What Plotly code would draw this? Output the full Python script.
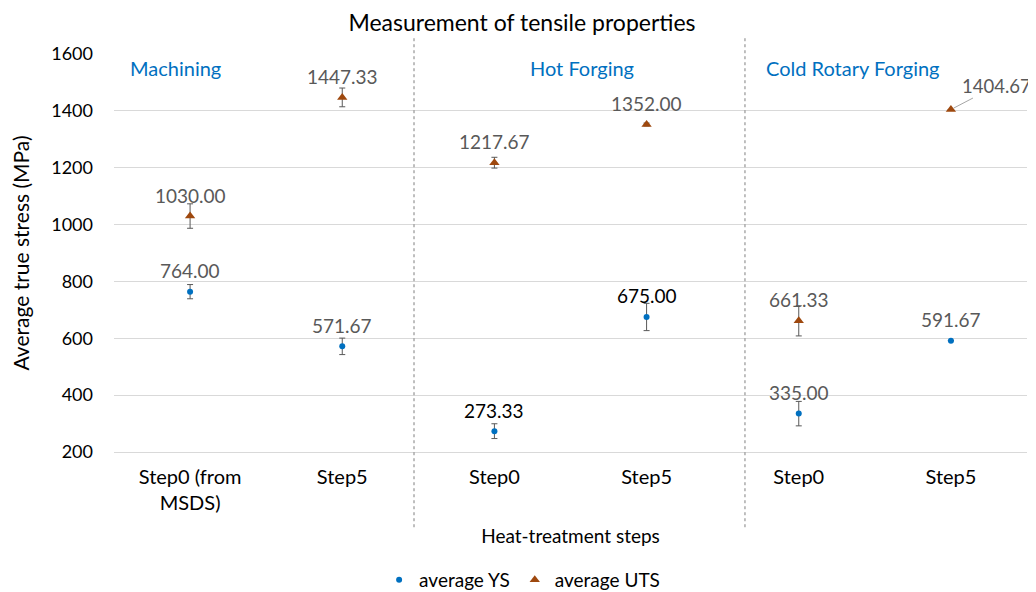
import plotly.graph_objects as go

# ---- data ----
x_pos = [0, 1, 2, 3, 4, 5]
tick_labels = ["Step0 (from<br>MSDS)", "Step5", "Step0", "Step5", "Step0", "Step5"]
groups = ["Machining", "Hot Forging", "Cold Rotary Forging"]
ys_values = [764.00, 571.67, 273.33, 675.00, 335.00, 591.67]
ys_errors = [25, 29, 26, 48, 43, 0]
uts_values = [1030.00, 1447.33, 1217.67, 1352.00, 661.33, 1404.67]
uts_errors = [43, 33, 19, 5, 53, 0]

FONT = "Lato"
BLUE = "#0070C0"
BROWN = "#9E480E"
ERR = "#595959"

# page body has an 8px margin; size the figure so it fills the 1036x592 window
W, H = 1028, 584

fig = go.Figure()
fig.add_trace(go.Scatter(
    x=x_pos, y=ys_values, mode="markers", name="average YS",
    marker=dict(symbol="circle", size=6, color=BLUE),
    error_y=dict(type="data", array=ys_errors, visible=True, color=ERR, thickness=1, width=3),
    cliponaxis=False,
))
fig.add_trace(go.Scatter(
    x=x_pos, y=uts_values, mode="markers", name="average UTS",
    marker=dict(symbol="triangle-up", size=9, color=BROWN),
    error_y=dict(type="data", array=uts_errors, visible=True, color=ERR, thickness=1, width=3),
    cliponaxis=False,
))

annotations = []
black_labels = {("YS", 2), ("YS", 3)}
for name, vals in (("YS", ys_values), ("UTS", uts_values)):
    for i, v in enumerate(vals):
        color = "#000000" if (name, i) in black_labels else "#595959"
        if name == "UTS" and i == 5:
            annotations.append(dict(
                x=x_pos[i], y=v, xref="x", yref="y", text=f"{v:.2f}",
                showarrow=True, arrowhead=0, arrowwidth=1, arrowcolor="#A6A6A6",
                ax=46, ay=-24, standoff=3,
                font=dict(family=FONT, size=18.5, color=color),
            ))
        else:
            annotations.append(dict(
                x=x_pos[i], y=v, xref="x", yref="y", text=f"{v:.2f}",
                showarrow=False, yshift=21,
                font=dict(family=FONT, size=19, color=color),
            ))

group_x = [0.0153, 0.4534, 0.7114]
for g, gx in zip(groups, group_x):
    annotations.append(dict(
        x=gx, y=0.965, xref="paper", yref="paper", text=g, showarrow=False,
        xanchor="left", yanchor="middle",
        font=dict(family=FONT, size=20, color=BLUE),
    ))

shapes = []
for sx in (0.3286, 0.6911):
    shapes.append(dict(
        type="line", xref="paper", yref="paper", x0=sx, x1=sx, y0=-0.189, y1=1.045,
        line=dict(color="#7F7F7F", width=1, dash="dot"),
    ))

fig.update_layout(
    width=W, height=H,
    margin=dict(l=106, r=9, t=46, b=140),
    paper_bgcolor="white", plot_bgcolor="white",
    font=dict(family=FONT, size=18, color="#000000"),
    title=dict(text="Measurement of tensile properties", x=0.5, xref="container",
               y=1 - 15 / H, yref="container", yanchor="middle",
               font=dict(family=FONT, size=23, color="#000000")),
    xaxis=dict(
        range=[-0.5, 5.5], tickmode="array", tickvals=x_pos, ticktext=tick_labels,
        showgrid=False, zeroline=False, showline=True, linecolor="#D9D9D9", linewidth=1,
        ticks="", tickfont=dict(family=FONT, size=20, color="#000000"),
        ticklabelstandoff=7,
        title=dict(text="Heat-treatment steps", standoff=16,
                   font=dict(family=FONT, size=19, color="#000000")),
    ),
    yaxis=dict(
        range=[200, 1600], tickmode="array", tickvals=[200, 400, 600, 800, 1000, 1200, 1400, 1600],
        showgrid=True, gridcolor="#D9D9D9", gridwidth=1, zeroline=False, showline=False,
        ticks="", ticklabelstandoff=20, tickfont=dict(family=FONT, size=18, color="#000000"),
        title=dict(text="Average true stress (MPa)", standoff=16,
                   font=dict(family=FONT, size=21, color="#000000")),
    ),
    legend=dict(
        orientation="h", x=0.447, xanchor="center", y=12 / H, yref="container",
        yanchor="middle", font=dict(family=FONT, size=19, color="#000000"),
        itemwidth=30, bgcolor="rgba(0,0,0,0)",
    ),
    annotations=annotations,
    shapes=shapes,
    showlegend=True,
)

fig.write_html("out.html")
